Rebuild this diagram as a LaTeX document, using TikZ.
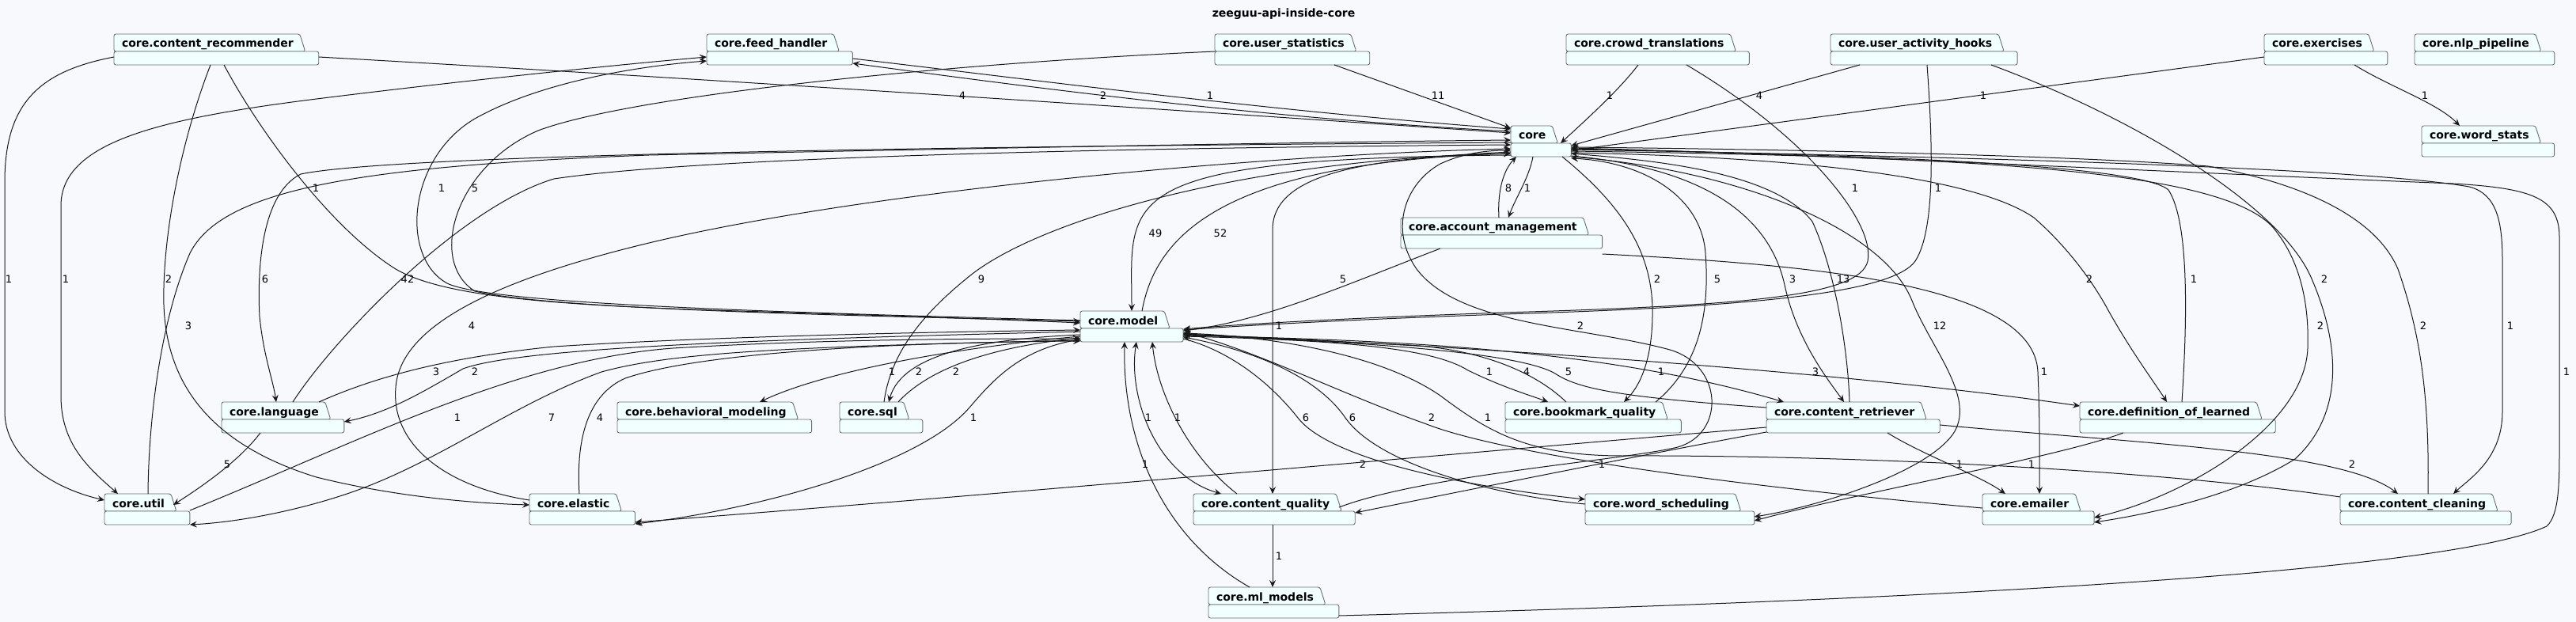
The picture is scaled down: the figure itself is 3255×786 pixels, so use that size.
\documentclass[tikz,border=0pt]{standalone}
\usepackage{fontspec}
\setmainfont{DejaVu Sans}
\usetikzlibrary{arrows.meta,calc}
\definecolor{bgc}{RGB}{248,249,253}
\definecolor{pkgfill}{RGB}{241,255,255}
\definecolor{pkgline}{RGB}{105,110,110}
\definecolor{edgec}{RGB}{24,24,24}
\pgfdeclarelayer{bg}
\pgfdeclarelayer{shapes}
\pgfsetlayers{bg,shapes,main}
\tikzset{
  dep/.style={draw=edgec, line width=1pt, -{Stealth[length=9pt,width=8pt,inset=3.5pt]}},
  bidep/.style={draw=edgec, line width=1pt, {Stealth[length=9pt,width=8pt,inset=3.5pt]}-{Stealth[length=9pt,width=8pt,inset=3.5pt]}},
  lbl/.style={font=\fontsize{13}{15}\selectfont, inner sep=0pt, text=black},
  pkgnode/.style={anchor=north west, inner sep=0pt, outer sep=0pt, text height=17pt, text depth=22pt, font=\fontsize{14}{16}\selectfont\bfseries},
  pkgshape/.style={fill=pkgfill, draw=pkgline, line width=0.9pt, rounded corners=2.5pt},
  ttl/.style={font=\fontsize{14}{16}\selectfont\bfseries, inner sep=0pt},
}
\newcommand\pkgbox[4]{%
  \node[pkgnode] (#1) at (#2,#3) {\hspace*{10pt}#4\hspace*{32pt}};%
  \begin{pgfonlayer}{shapes}%
    \draw[pkgshape] ([yshift=-22pt]#1.north west) -- (#1.north west) -- ([xshift=-24pt]#1.north east) -- ([xshift=-17pt,yshift=-22pt]#1.north east) -- cycle;%
    \draw[pkgshape] ([yshift=-22pt]#1.north west) rectangle (#1.south east);%
  \end{pgfonlayer}}
\begin{document}
\begin{tikzpicture}[x=1pt,y=-1pt]
\useasboundingbox (0,0) rectangle (3255,786);
\begin{pgfonlayer}{bg}\fill[bgc] (0,0) rectangle (3255,786);\end{pgfonlayer}
\node[ttl] (title) at (1622,18) {zeeguu-api-inside-core};
% packages
\pkgbox{cr}{144}{43}{core.content\_recommender}
\pkgbox{fh}{893}{43}{core.feed\_handler}
\pkgbox{us}{1535}{43}{core.user\_statistics}
\pkgbox{ct}{1979}{43}{core.crowd\_translations}
\pkgbox{uah}{2313}{43}{core.user\_activity\_hooks}
\pkgbox{ex}{2861}{43}{core.exercises}
\pkgbox{nlp}{3051}{43}{core.nlp\_pipeline}
\pkgbox{core}{1909}{159}{core}
\pkgbox{wst}{3060}{159}{core.word\_stats}
\pkgbox{am}{1770}{275}{core.account\_management}
\pkgbox{model}{1365}{393}{core.model}
\pkgbox{lang}{280}{508}{core.language}
\pkgbox{bm}{780}{508}{core.behavioral\_modeling}
\pkgbox{sql}{1061}{508}{core.sql}
\pkgbox{bq}{1902}{508}{core.bookmark\_quality}
\pkgbox{crt}{2232}{508}{core.content\_retriever}
\pkgbox{dol}{2628}{508}{core.definition\_of\_learned}
\pkgbox{util}{132}{624}{core.util}
\pkgbox{el}{669}{624}{core.elastic}
\pkgbox{cq}{1508}{624}{core.content\_quality}
\pkgbox{wsch}{2003}{624}{core.word\_scheduling}
\pkgbox{em}{2505}{624}{core.emailer}
\pkgbox{cc}{2957}{624}{core.content\_cleaning}
\pkgbox{ml}{1527}{742}{core.ml\_models}
% edges
\draw[dep] (cr.west |- 0,72) .. controls (50,90) and (6,130) .. (6,230) -- (6,520) .. controls (6,580) and (70,618) .. (util.west |- 0,632);
\draw[dep] (cr.south -| 266,0) .. controls (228,180) and (205,300) .. (207,385) .. controls (210,480) and (260,560) .. (400,603) .. controls (500,628) and (600,636) .. (el.west |- 0,638);
\draw[dep] (cr.south -| 283,0) .. controls (330,170) and (420,290) .. (500,340) .. controls (560,375) and (700,385) .. (900,392) .. controls (1100,398) and (1250,403) .. (model.west |- 0,408);
\draw[dep] (cr.east |- 0,72) .. controls (900,100) and (1500,140) .. (core.west |- 0,168);
\draw[bidep] (util.north -| 149,0) .. controls (110,590) and (77,560) .. (77,500) -- (77,260) .. controls (77,180) and (200,150) .. (400,125) .. controls (600,100) and (800,80) .. (fh.west |- 0,72);
\draw[dep] (model.west |- 0,405) .. controls (1000,395) and (620,385) .. (565,358) .. controls (505,325) and (515,200) .. (600,150) .. controls (680,105) and (800,84) .. (fh.west |- 0,77);
\draw[dep] (core.west |- 0,166) .. controls (1600,150) and (1300,110) .. (fh.east |- 0,80);
\draw[dep] (fh.east |- 0,74) .. controls (1300,100) and (1600,140) .. (core.west |- 0,163);
\draw[dep] (us.west |- 0,65) .. controls (1200,80) and (800,120) .. (680,165) .. controls (575,210) and (540,330) .. (600,368) .. controls (700,392) and (1100,399) .. (model.west |- 0,406);
\draw[dep] (us.south -| 1686,0) -- (core.west |- 0,162);
\draw[dep] (ct.south -| 2070,0) .. controls (2045,115) and (2000,155) .. ($(core.south -| 1972,0)+(0,-17)$);
\draw[dep] (ct.south -| 2131,0) .. controls (2280,170) and (2370,280) .. (2360,330) .. controls (2350,375) and (2200,386) .. (1900,395) .. controls (1700,402) and (1560,410) .. (model.east |- 0,416);
\draw[dep] (uah.south -| 2350,0) -- (core.east |- 0,184);
\draw[dep] (uah.south -| 2435,0) .. controls (2442,180) and (2446,290) .. (2420,330) .. controls (2390,372) and (2200,388) .. (1900,397) .. controls (1700,404) and (1560,412) .. (model.east |- 0,417);
\draw[dep] (uah.south -| 2516,0) .. controls (2700,150) and (2880,260) .. (2920,350) .. controls (2955,430) and (2965,520) .. (2900,580) .. controls (2820,630) and (2700,652) .. (em.east |- 0,660);
\draw[dep] (ex.west |- 0,72) -- (core.east |- 0,190);
\draw[dep] (ex.south -| 2975,0) .. controls (3020,110) and (3080,130) .. (wst.north -| 3108,0);
\draw[dep] (am.north -| 1894,0) .. controls (1892,240) and (1900,215) .. (core.south -| 1916,0);
\draw[dep] (core.south -| 1937,0) .. controls (1932,225) and (1915,250) .. (am.north -| 1906,0);
\draw[dep] (am.south -| 1820,0) .. controls (1700,360) and (1600,405) .. (model.east |- 0,418);
\draw[dep] (am.east |- 0,321) .. controls (2300,335) and (2570,360) .. (2575,470) .. controls (2578,540) and (2577,600) .. (em.north -| 2577,0);
\draw[dep] (core.west |- 0,196) .. controls (1400,200) and (1430,250) .. (model.north -| 1430,0);
\draw[dep] (model.north -| 1443,0) .. controls (1460,300) and (1540,205) .. (core.west |- 0,194);
\draw[dep] (core.west |- 0,180) .. controls (1200,185) and (500,195) .. (380,220) .. controls (330,245) and (325,340) .. (328,400) .. controls (333,450) and (345,480) .. (lang.north -| 349,0);
\draw[dep] (lang.north -| 370,0) .. controls (420,430) and (580,262) .. (700,226) .. controls (900,196) and (1500,186) .. (core.west |- 0,183);
\draw[dep] (util.north -| 187,0) .. controls (188,520) and (205,400) .. (240,320) .. controls (280,240) and (450,210) .. (820,196) .. controls (1300,186) and (1700,179) .. (core.west |- 0,177);
\draw[dep] (el.west |- 0,632) .. controls (560,615) and (494,560) .. (500,490) .. controls (505,420) and (600,360) .. (820,307) .. controls (1100,240) and (1600,195) .. (core.west |- 0,188);
\draw[dep] (sql.north -| 1117,0) .. controls (1125,450) and (1160,400) .. (1230,345) .. controls (1330,270) and (1600,200) .. (core.west |- 0,194);
\draw[dep] (core.south -| 1974,0) .. controls (2050,260) and (2090,320) .. (2088,400) .. controls (2087,460) and (2070,490) .. (bq.north -| 2052,0);
\draw[dep] (bq.north -| 2092,0) .. controls (2150,460) and (2160,390) .. (2155,320) .. controls (2150,250) and (2080,205) .. (core.east |- 0,200);
\draw[dep] (core.east |- 0,197) .. controls (2150,212) and (2235,270) .. (2255,360) .. controls (2270,430) and (2310,480) .. (crt.north -| 2330,0);
\draw[dep] (crt.north -| 2337,0) .. controls (2335,440) and (2318,340) .. (2290,280) .. controls (2240,215) and (2080,202) .. (core.east |- 0,194);
\draw[dep] (core.east |- 0,193) .. controls (2250,198) and (2490,220) .. (2570,275) .. controls (2610,310) and (2640,350) .. (2660,385) .. controls (2690,440) and (2720,480) .. (dol.north -| 2738,0);
\draw[dep] (dol.north -| 2757,0) .. controls (2764,400) and (2766,280) .. (2740,240) .. controls (2700,205) and (2300,195) .. (core.east |- 0,188);
\draw[dep] (core.east |- 0,198) .. controls (2200,215) and (2380,290) .. (2416,380) .. controls (2440,440) and (2495,500) .. (2470,545) .. controls (2440,595) and (2300,640) .. (wsch.east |- 0,653);
\draw[dep] (core.east |- 0,191) .. controls (2500,198) and (2800,215) .. (2870,285) .. controls (2905,325) and (2918,380) .. (2916,440) .. controls (2912,540) and (2760,628) .. (em.east |- 0,654);
\draw[dep] (cc.north -| 3068,0) .. controls (3070,500) and (3058,420) .. (3030,340) .. controls (3000,270) and (2900,230) .. (2790,210) .. controls (2600,195) and (2200,188) .. (core.east |- 0,186);
\draw[dep] (core.east |- 0,189) .. controls (2600,200) and (3000,215) .. (3120,236) .. controls (3155,245) and (3162,280) .. (3162,330) -- (3162,520) .. controls (3162,580) and (3120,605) .. (cc.north -| 3100,0);
\draw[dep] (ml.east |- 0,778) .. controls (2500,757) and (3100,720) .. (3218,665) .. controls (3234,650) and (3234,610) .. (3234,560) -- (3234,300) .. controls (3234,250) and (3200,238) .. (3100,232) .. controls (2800,220) and (2300,195) .. (core.east |- 0,187);
\draw[dep] (core.west |- 0,192) .. controls (1740,200) and (1608,215) .. (1608,290) -- (cq.north -| 1608,0);
\draw[dep] ($(cq.north -| 1692,0)+(0,17)$) .. controls (1800,600) and (2050,582) .. (2120,565) .. controls (2180,548) and (2178,462) .. (2110,442) .. controls (2000,412) and (1845,412) .. (1790,340) .. controls (1755,290) and (1775,232) .. (1820,207) .. controls (1850,193) and (1880,190) .. (core.west |- 0,190);
\draw[dep] (lang.north -| 403,0) .. controls (470,478) and (560,452) .. (700,438) .. controls (900,425) and (1200,419) .. (model.west |- 0,417);
\draw[dep] (model.west |- 0,419) .. controls (1000,428) and (660,438) .. (585,466) .. controls (535,495) and (490,522) .. (lang.east |- 0,533);
\draw[dep] (model.west |- 0,425) .. controls (1200,440) and (1040,470) .. (bm.north -| 960,0);
\draw[dep] (model.west |- 0,423) .. controls (1250,428) and (1140,445) .. (sql.north -| 1123,0);
\draw[dep] (sql.north -| 1135,0) .. controls (1170,470) and (1240,440) .. (model.west |- 0,427);
\draw[dep] (model.east |- 0,425) .. controls (1700,430) and (1810,440) .. (1855,468) .. controls (1900,490) and (1935,500) .. (bq.north -| 1956,0);
\draw[dep] (bq.north -| 1979,0) .. controls (1945,475) and (1880,442) .. (1780,436) .. controls (1650,430) and (1560,425) .. (model.east |- 0,422);
\draw[dep] (crt.west |- 0,515) .. controls (2050,502) and (1995,492) .. (1965,472) .. controls (1910,440) and (1650,430) .. (model.east |- 0,423);
\draw[dep] (model.east |- 0,424) .. controls (1800,430) and (2040,445) .. (crt.north -| 2254,0);
\draw[dep] (model.east |- 0,422) .. controls (1800,435) and (2300,465) .. (dol.west |- 0,513);
\draw[dep] (util.east |- 0,645) .. controls (450,560) and (650,455) .. (850,440) .. controls (1050,428) and (1250,428) .. (model.west |- 0,428);
\draw[dep] (model.west |- 0,430) .. controls (1000,438) and (850,445) .. (760,470) .. controls (650,510) and (560,580) .. (450,620) .. controls (380,645) and (300,660) .. (util.east |- 0,663);
\draw[dep] (el.north -| 732,0) .. controls (728,560) and (740,500) .. (790,478) .. controls (900,440) and (1200,432) .. (model.west |- 0,431);
\draw[dep] (model.west |- 0,429) .. controls (1290,440) and (1255,480) .. (1225,515) .. controls (1160,590) and (950,645) .. (el.east |- 0,662);
\draw[bidep] (model.south -| 1436,0) .. controls (1425,500) and (1460,600) .. (cq.north -| 1543,0);
\draw[dep] (cq.north -| 1563,0) .. controls (1500,575) and (1462,495) .. (model.south -| 1456,0);
\draw[dep] (ml.north -| 1579,0) .. controls (1470,680) and (1418,560) .. (model.south -| 1421,0);
\draw[dep] (cq.south -| 1608,0) -- (ml.north -| 1608,0);
\draw[dep] (model.east |- 0,428) .. controls (1560,445) and (1610,490) .. (1640,528) .. controls (1680,580) and (1850,615) .. (wsch.west |- 0,631);
\draw[dep] (wsch.west |- 0,637) .. controls (1880,625) and (1740,585) .. (1700,528) .. controls (1660,470) and (1570,440) .. (model.east |- 0,426);
\draw[dep] (em.west |- 0,642) .. controls (2200,615) and (1900,575) .. (1800,535) .. controls (1700,500) and (1580,440) .. (model.east |- 0,420);
\draw[dep] (cc.west |- 0,628) .. controls (2700,590) and (2300,575) .. (2050,576) .. controls (1930,576) and (1880,545) .. (1820,500) .. controls (1740,445) and (1600,425) .. (model.east |- 0,421);
\draw[dep] (lang.south -| 329,0) .. controls (300,585) and (250,618) .. ($(util.north -| 219,0)+(0,14)$);
\draw[dep] (crt.west |- 0,540) .. controls (1900,568) and (1300,622) .. (el.east |- 0,660);
\draw[dep] (crt.west |- 0,546) .. controls (2100,570) and (1850,620) .. (cq.east |- 0,648);
\draw[dep] (crt.south -| 2385,0) .. controls (2430,575) and (2500,600) .. (em.north -| 2534,0);
\draw[dep] (dol.south -| 2683,0) .. controls (2600,578) and (2350,622) .. (wsch.east |- 0,658);
\draw[dep] (crt.east |- 0,537) .. controls (2700,560) and (2960,570) .. (cc.north -| 3030,0);
% labels
\node[lbl] (l1) at (11,353) {1};
\node[lbl] (l2) at (213,353) {2};
\node[lbl] (l3) at (399,238) {1};
\node[lbl] (l4) at (1216,121) {4};
\node[lbl] (l5) at (83,353) {1};
\node[lbl] (l6) at (558,238) {1};
\node[lbl] (l7) at (1394,121) {2};
\node[lbl] (l8) at (1529,121) {1};
\node[lbl] (l9) at (600,238) {5};
\node[lbl] (l10) at (1817,121) {11};
\node[lbl] (l11) at (2034,121) {1};
\node[lbl] (l12) at (2344,238) {1};
\node[lbl] (l13) at (2223,121) {4};
\node[lbl] (l14) at (2449,238) {1};
\node[lbl] (l15) at (2937,353) {2};
\node[lbl] (l16) at (2506,121) {1};
\node[lbl] (l17) at (3064,121) {1};
\node[lbl] (l18) at (1906,238) {8};
\node[lbl] (l19) at (1930,238) {1};
\node[lbl] (l20) at (1697,353) {5};
\node[lbl] (l21) at (2583,470) {1};
\node[lbl] (l22) at (1460,295) {49};
\node[lbl] (l23) at (1542,295) {52};
\node[lbl] (l24) at (335,353) {6};
\node[lbl] (l25) at (515,353) {42};
\node[lbl] (l26) at (238,412) {3};
\node[lbl] (l27) at (596,412) {4};
\node[lbl] (l28) at (1240,353) {9};
\node[lbl] (l29) at (2094,353) {2};
\node[lbl] (l30) at (2170,353) {5};
\node[lbl] (l31) at (2265,353) {3};
\node[lbl] (l32) at (2329,353) {13};
\node[lbl] (l33) at (2640,353) {2};
\node[lbl] (l34) at (2772,353) {1};
\node[lbl] (l35) at (2451,412) {12};
\node[lbl] (l36) at (2932,412) {2};
\node[lbl] (l37) at (3062,412) {2};
\node[lbl] (l38) at (3172,412) {1};
\node[lbl] (l39) at (3243,470) {1};
\node[lbl] (l40) at (1616,412) {1};
\node[lbl] (l41) at (1997,412) {2};
\node[lbl] (l42) at (551,470) {3};
\node[lbl] (l43) at (600,470) {2};
\node[lbl] (l44) at (1127,470) {1};
\node[lbl] (l45) at (1161,470) {2};
\node[lbl] (l46) at (1208,470) {2};
\node[lbl] (l47) at (1882,470) {1};
\node[lbl] (l48) at (1929,470) {4};
\node[lbl] (l49) at (1982,470) {5};
\node[lbl] (l50) at (2099,470) {1};
\node[lbl] (l51) at (2294,470) {3};
\node[lbl] (l52) at (578,528) {1};
\node[lbl] (l53) at (697,528) {7};
\node[lbl] (l54) at (758,528) {4};
\node[lbl] (l55) at (1230,528) {1};
\node[lbl] (l56) at (1451,528) {1};
\node[lbl] (l57) at (1488,528) {1};
\node[lbl] (l58) at (1650,528) {6};
\node[lbl] (l59) at (1709,528) {6};
\node[lbl] (l60) at (1809,528) {2};
\node[lbl] (l61) at (1880,528) {1};
\node[lbl] (l62) at (1447,587) {1};
\node[lbl] (l63) at (287,587) {5};
\node[lbl] (l64) at (1722,587) {2};
\node[lbl] (l65) at (2024,587) {1};
\node[lbl] (l66) at (2476,587) {1};
\node[lbl] (l67) at (2567,587) {1};
\node[lbl] (l68) at (2972,587) {2};
\node[lbl] (l69) at (1616,703) {1};
\end{tikzpicture}
\end{document}
